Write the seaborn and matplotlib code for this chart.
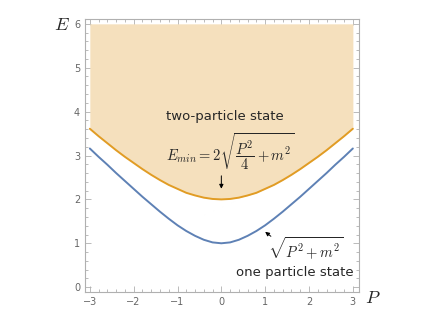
import matplotlib
matplotlib.use("Agg")
import matplotlib.pyplot as plt
import seaborn as sns
import numpy as np
import pandas as pd

# momentum values and the two energy branches
p_vals = [-3.0, -2.8, -2.6, -2.4, -2.2, -2.0, -1.8, -1.6, -1.4, -1.2, -1.0, -0.8, -0.6, -0.4, -0.2, 0.0,
          0.2, 0.4, 0.6, 0.8, 1.0, 1.2, 1.4, 1.6, 1.8, 2.0, 2.2, 2.4, 2.6, 2.8, 3.0]
e_one = [3.16, 2.97, 2.79, 2.60, 2.42, 2.24, 2.06, 1.89, 1.72, 1.56, 1.41, 1.28, 1.17, 1.08, 1.02, 1.00,
         1.02, 1.08, 1.17, 1.28, 1.41, 1.56, 1.72, 1.89, 2.06, 2.24, 2.42, 2.60, 2.79, 2.97, 3.16]
e_two = [3.61, 3.44, 3.28, 3.12, 2.97, 2.83, 2.69, 2.56, 2.44, 2.33, 2.24, 2.15, 2.09, 2.04, 2.01, 2.00,
         2.01, 2.04, 2.09, 2.15, 2.24, 2.33, 2.44, 2.56, 2.69, 2.83, 2.97, 3.12, 3.28, 3.44, 3.61]
e_top = 6.0

df = pd.DataFrame({"P": p_vals, "one": e_one, "two": e_two})

sns.set_style("ticks")
plt.rcParams["mathtext.fontset"] = "cm"

fig = plt.figure(figsize=(4.36, 3.28), dpi=100)
ax = fig.add_axes([85 / 436, 1 - 292 / 328, 274 / 436, 273 / 328])

# two-particle continuum
ax.fill_between(df["P"], df["two"], e_top, color="#f5e0bd", lw=0)
sns.lineplot(data=df, x="P", y="two", ax=ax, color="#e19c24", lw=1.4, sort=False)
sns.lineplot(data=df, x="P", y="one", ax=ax, color="#5e81b5", lw=1.4, sort=False)

ax.set_xlim(-3.11, 3.14)
ax.set_ylim(-0.11, 6.11)
ax.set_xlabel("")
ax.set_ylabel("")

# frame and ticks, mathematica look
for s in ax.spines.values():
    s.set_color("#b0b0b0")
    s.set_linewidth(0.8)
ax.set_xticks([-3, -2, -1, 0, 1, 2, 3])
ax.set_yticks([0, 1, 2, 3, 4, 5, 6])
ax.set_xticks(np.arange(-3, 3.01, 0.2), minor=True)
ax.set_yticks(np.arange(0, 6.01, 0.2), minor=True)
ax.tick_params(which="both", direction="in", top=True, right=True, color="#b0b0b0",
               labelsize=7, labelcolor="#666666", width=0.6)
ax.tick_params(which="major", length=4)
ax.tick_params(which="minor", length=2)
ax.grid(False)

ax.text(0.08, 3.88, "two-particle state", ha="center", va="center", fontsize=9.5)
ax.text(0.2, 3.1, r"$E_{min} = 2\sqrt{\dfrac{P^2}{4}+m^2}$", ha="center", va="center", fontsize=10.5)
ax.annotate("", xy=(0.0, 2.18), xytext=(0.0, 2.6),
            arrowprops=dict(arrowstyle="-|>", color="black", lw=0.7, mutation_scale=6))
ax.annotate("", xy=(0.95, 1.3), xytext=(1.18, 1.12),
            arrowprops=dict(arrowstyle="-|>", color="black", lw=0.7, mutation_scale=6))
ax.text(1.93, 0.86, r"$\sqrt{P^2+m^2}$", ha="center", va="center", fontsize=10.5)
ax.text(1.68, 0.34, "one particle state", ha="center", va="center", fontsize=9.5)

fig.text(62 / 436, 1 - 25 / 328, r"$E$", ha="center", va="center", fontsize=13)
fig.text(373 / 436, 1 - 298 / 328, r"$P$", ha="center", va="center", fontsize=13)

fig.savefig("out.png", dpi=100)
